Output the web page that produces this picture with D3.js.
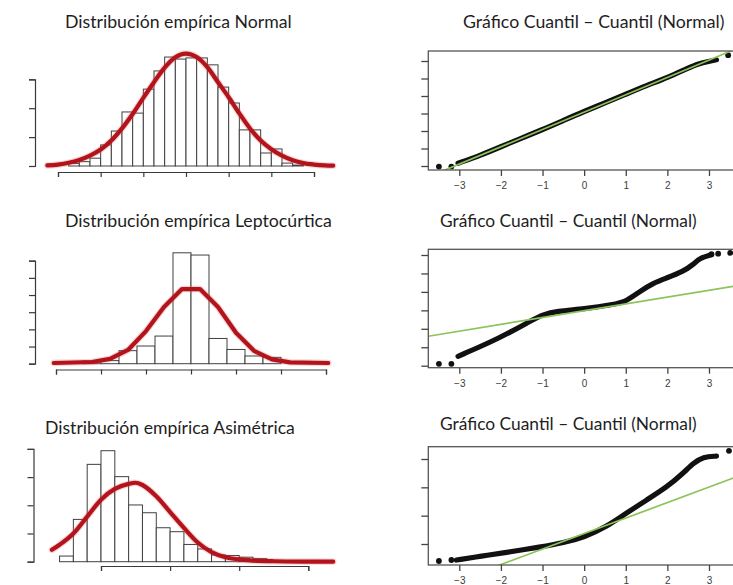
<!DOCTYPE html>
<html>
<head>
<meta charset="utf-8">
<script src="https://cdn.jsdelivr.net/npm/d3@7"></script>
<style>
  body { margin: 0; background: #fff; }
  svg { display: block; }
</style>
</head>
<body>
<svg id="chart" width="733" height="585"></svg>
<script>
// ---------- titles ----------
const histTitles = ["Distribución empírica Normal", "Distribución empírica Leptocúrtica", "Distribución empírica Asimétrica"];
const qqTitle = "Gráfico Cuantil – Cuantil (Normal)";

// ---------- histogram: normal sample (density per bin) ----------
const normalBinStart = -2.75;
const normalBinWidth = 0.25;
const normalDensity = [0.009, 0.015, 0.027, 0.073, 0.121, 0.187, 0.183, 0.266, 0.329, 0.377, 0.370,
                       0.374, 0.374, 0.350, 0.273, 0.218, 0.125, 0.125, 0.045, 0.059, 0.010, 0.003];
const normalCurveX = [-3.25, -3, -2.75, -2.5, -2.25, -2, -1.75, -1.5, -1.25, -1, -0.75, -0.5, -0.25, 0,
                      0.25, 0.5, 0.75, 1, 1.25, 1.5, 1.75, 2, 2.25, 2.5, 2.75, 3, 3.25, 3.45];
const normalCurveY = [0.002, 0.005, 0.011, 0.021, 0.036, 0.057, 0.088, 0.130, 0.180, 0.236, 0.290, 0.340, 0.376, 0.389,
                      0.377, 0.342, 0.290, 0.238, 0.182, 0.130, 0.088, 0.058, 0.036, 0.020, 0.010, 0.005, 0.002, 0.001];
const normalYTicks = [0, 0.1, 0.2, 0.3];
const normalXTicks = [-3, -2, -1, 0, 1, 2, 3];

// ---------- histogram: leptokurtic sample ----------
const leptoBinStart = -2.4;
const leptoBinWidth = 0.4;
const leptoDensity = [0.016, 0.018, 0.076, 0.103, 0.161, 0.646, 0.633, 0.147, 0.083, 0.045, 0.037];
const leptoCurveX = [-3.05, -2.2, -1.8, -1.4, -1.0, -0.6, -0.2, 0.2, 0.6, 1.0, 1.4, 1.8, 2.2, 3.05];
const leptoCurveY = [0.004, 0.010, 0.028, 0.080, 0.190, 0.330, 0.435, 0.435, 0.330, 0.180, 0.075, 0.025, 0.008, 0.004];
const leptoYTicks = [0, 0.1, 0.2, 0.3, 0.4, 0.5, 0.6];
const leptoXTicks = [-3, -2, -1, 0, 1, 2, 3];

// ---------- histogram: right-skewed sample ----------
const skewBinStart = -0.8;
const skewBinWidth = 0.2;
const skewDensity = [0, 0.05, 0.375, 0.863, 0.984, 0.754, 0.503, 0.434, 0.301, 0.266, 0.153,
                     0.113, 0.060, 0.055, 0.040, 0.027, 0.010];
const skewCurveX = [-0.71, -0.6, -0.4, -0.2, 0, 0.2, 0.4, 0.5, 0.6, 0.8, 1.0, 1.2, 1.4, 1.6, 1.8, 2.0, 2.2, 2.5, 3.0, 3.36];
const skewCurveY = [0.105, 0.150, 0.250, 0.400, 0.550, 0.645, 0.690, 0.700, 0.680, 0.580, 0.440, 0.300, 0.170,
                    0.085, 0.040, 0.020, 0.010, 0.004, 0.001, 0.0];
const skewYTicks = [0, 0.25, 0.5, 0.75, 1.0];
const skewXTicks = [0, 1, 2, 3];

// ---------- Q-Q plots (theoretical quantile, sample quantile) ----------
const qqXTicks = [-3, -2, -1, 0, 1, 2, 3];

const qqNormalTheo   = [-3.03, -2.5, -2, -1.5, -1, -0.5, 0, 0.5, 1, 1.5, 2, 2.5, 2.75, 3.0, 3.18];
const qqNormalSample = [-2.84, -2.4, -1.9, -1.4, -0.92, -0.4, 0.12, 0.6, 1.1, 1.6, 2.05, 2.6, 2.85, 2.98, 3.07];
const qqNormalOutTheo   = [-3.49, -3.19, 3.46];
const qqNormalOutSample = [-3.03, -3.03, 3.33];
const qqNormalLine = [0.08, 0.99];          // intercept, slope
const qqNormalYTicks = [-3, -2, -1, 0, 1, 2, 3];

const qqLeptoTheo   = [-3.03, -2.02, -1.23, -0.99, -0.67, 0, 0.7, 1.02, 1.34, 1.66, 1.98, 2.38, 2.62, 2.78, 3.06];
const qqLeptoSample = [-2.49, -1.5, -0.5, -0.23, -0.05, 0.08, 0.31, 0.49, 1.03, 1.48, 1.75, 2.11, 2.48, 2.84, 3.02];
const qqLeptoOutTheo   = [-3.49, -3.19, 3.06, 3.22, 3.51];
const qqLeptoOutSample = [-2.90, -2.90, 3.04, 3.07, 3.11];
const qqLeptoLine = [-0.02, 0.37];
const qqLeptoYTicks = [-3, -2, -1, 0, 1, 2, 3];

const qqSkewTheo   = [-3.07, -2.43, -2.0, -1.0, -0.5, 0, 0.54, 1.0, 1.5, 2.0, 2.38, 2.62, 2.86, 3.18];
const qqSkewSample = [-0.565, -0.42, -0.33, -0.094, 0.046, 0.236, 0.61, 1.08, 1.55, 2.02, 2.5, 2.85, 3.08, 3.1];
const qqSkewOutTheo   = [-3.49, -3.19, 3.48];
const qqSkewOutSample = [-0.6, -0.565, 3.29];
const qqSkewLine = [0.37, 0.546];
const qqSkewYTicks = [0, 1, 2, 3];

// ---------- drawing ----------
const svg = d3.select("#chart");
const RED = "#b3131b";
const AXIS = "#3a3a3a";

function title(text, x, y, targetWidth) {
  const t = svg.append("text")
    .attr("x", x).attr("y", y)
    .attr("fill", "#1e1e1e")
    .style("font-family", "Lato, 'Open Sans', sans-serif")
    .style("font-size", "16px")
    .text(text);
  const w = t.node().getComputedTextLength();
  t.style("font-size", (16 * targetWidth / w).toFixed(2) + "px");
}

function histogram(cfg) {
  const g = svg.append("g");
  const x = d3.scaleLinear().domain([cfg.xTicks[0], cfg.xTicks[cfg.xTicks.length - 1]]).range(cfg.xRange);
  const y = d3.scaleLinear().domain([cfg.yTicks[0], cfg.yTicks[cfg.yTicks.length - 1]]).range(cfg.yRange);

  const bins = cfg.density.map((d, i) => ({ x0: cfg.binStart + i * cfg.binWidth, x1: cfg.binStart + (i + 1) * cfg.binWidth, d }));
  g.selectAll("rect.bar").data(bins).join("rect")
    .attr("class", "bar")
    .attr("x", b => x(b.x0))
    .attr("width", b => x(b.x1) - x(b.x0))
    .attr("y", b => y(b.d))
    .attr("height", b => y(0) - y(b.d))
    .attr("fill", "#fff")
    .attr("stroke", "#404040")
    .attr("stroke-width", 1);

  // density curve with a soft halo
  const pts = cfg.curveX.map((v, i) => [v, cfg.curveY[i]]);
  const line = d3.line().x(p => x(p[0])).y(p => y(p[1])).curve(cfg.curve);
  g.append("path").attr("d", line(pts)).attr("fill", "none")
    .attr("stroke", "#e0555c").attr("stroke-opacity", 0.25).attr("stroke-width", 6.5)
    .attr("stroke-linejoin", "round").attr("stroke-linecap", "round");
  g.append("path").attr("d", line(pts)).attr("fill", "none")
    .attr("stroke", RED).attr("stroke-width", 4.2)
    .attr("stroke-linejoin", "round").attr("stroke-linecap", "round");

  // y axis (no labels)
  const ya = g.append("g").attr("transform", `translate(${cfg.yAxisX},0)`)
    .call(d3.axisLeft(y).tickValues(cfg.yTicks).tickFormat("").tickSizeOuter(0).tickSize(6));
  // x axis (no labels)
  const xg = g.append("g").attr("transform", `translate(0,${cfg.xAxisY})`)
    .call(d3.axisBottom(x).tickValues(cfg.xTicks).tickFormat("").tickSizeOuter(0).tickSize(5));
  [ya, xg].forEach(a => {
    a.selectAll("path, line").attr("stroke", AXIS).attr("stroke-width", 1.2);
  });
}

function qqplot(cfg) {
  const g = svg.append("g");
  const x = d3.scaleLinear().domain([cfg.xTicks[0], cfg.xTicks[cfg.xTicks.length - 1]]).range(cfg.xRange);
  const y = d3.scaleLinear().domain([cfg.yTicks[0], cfg.yTicks[cfg.yTicks.length - 1]]).range(cfg.yRange);
  const [bx0, by0, bx1, by1] = cfg.box;

  const clipId = "clip" + cfg.id;
  svg.append("clipPath").attr("id", clipId).append("rect")
    .attr("x", bx0).attr("y", by0).attr("width", bx1 - bx0).attr("height", by1 - by0);

  const inner = g.append("g").attr("clip-path", `url(#${clipId})`);
  const pts = cfg.theo.map((v, i) => [v, cfg.sample[i]]);
  inner.append("path")
    .attr("d", d3.line().x(p => x(p[0])).y(p => y(p[1])).curve(d3.curveBasis)(pts))
    .attr("fill", "none").attr("stroke", "#111").attr("stroke-width", 5.2)
    .attr("stroke-linecap", "round").attr("stroke-linejoin", "round");
  inner.selectAll("circle").data(cfg.outTheo.map((v, i) => [v, cfg.outSample[i]])).join("circle")
    .attr("cx", p => x(p[0])).attr("cy", p => y(p[1])).attr("r", 2.9).attr("fill", "#111");

  // reference line across the whole plotting region
  const [a, b] = cfg.refLine;
  const xd0 = x.invert(bx0), xd1 = x.invert(bx1);
  inner.append("line")
    .attr("x1", x(xd0)).attr("y1", y(a + b * xd0))
    .attr("x2", x(xd1)).attr("y2", y(a + b * xd1))
    .attr("stroke", "#8cc35a").attr("stroke-width", 1.7);

  g.append("rect").attr("x", bx0).attr("y", by0).attr("width", bx1 - bx0).attr("height", by1 - by0)
    .attr("fill", "none").attr("stroke", "#555").attr("stroke-width", 1.3);

  const ya = g.append("g").attr("transform", `translate(${bx0},0)`)
    .call(d3.axisLeft(y).tickValues(cfg.yTicks).tickFormat("").tickSizeOuter(0).tickSize(7));
  ya.select(".domain").remove();
  const xg = g.append("g").attr("transform", `translate(0,${by1})`)
    .call(d3.axisBottom(x).tickValues(cfg.xTicks).tickFormat(d3.format("d")).tickSizeOuter(0).tickSize(6).tickPadding(6));
  xg.select(".domain").remove();
  [ya, xg].forEach(ax => ax.selectAll("line").attr("stroke", "#444").attr("stroke-width", 1.3));
  xg.selectAll("text").attr("fill", "#3c3c3c")
    .style("font-family", "'Liberation Sans', Arial, sans-serif").style("font-size", "10px");
}

// titles
title(histTitles[0], 65, 28, 227);
title(qqTitle, 463, 28, 262);
title(histTitles[1], 65, 227, 267);
title(qqTitle, 440, 227, 257);
title(histTitles[2], 45, 434, 250);
title(qqTitle, 440, 430, 257);

// left column: histograms with fitted density
histogram({ binStart: normalBinStart, binWidth: normalBinWidth, density: normalDensity,
  curveX: normalCurveX, curveY: normalCurveY, curve: d3.curveMonotoneX,
  xTicks: normalXTicks, yTicks: normalYTicks,
  xRange: [58, 314], yRange: [166, 79.3], yAxisX: 35, xAxisY: 172 });

histogram({ binStart: leptoBinStart, binWidth: leptoBinWidth, density: leptoDensity,
  curveX: leptoCurveX, curveY: leptoCurveY, curve: d3.curveLinear,
  xTicks: leptoXTicks, yTicks: leptoYTicks,
  xRange: [56, 326], yRange: [363.7, 260.7], yAxisX: 35, xAxisY: 369.5 });

histogram({ binStart: skewBinStart, binWidth: skewBinWidth, density: skewDensity,
  curveX: skewCurveX, curveY: skewCurveY, curve: d3.curveMonotoneX,
  xTicks: skewXTicks, yTicks: skewYTicks,
  xRange: [101, 308.3], yRange: [561.7, 448.9], yAxisX: 33.5, xAxisY: 566 });

// right column: normal Q-Q plots
qqplot({ id: 1, theo: qqNormalTheo, sample: qqNormalSample, outTheo: qqNormalOutTheo, outSample: qqNormalOutSample,
  refLine: qqNormalLine, xTicks: qqXTicks, yTicks: qqNormalYTicks,
  xRange: [459.3, 709], yRange: [166, 61], box: [428.3, 51, 742, 170] });

qqplot({ id: 2, theo: qqLeptoTheo, sample: qqLeptoSample, outTheo: qqLeptoOutTheo, outSample: qqLeptoOutSample,
  refLine: qqLeptoLine, xTicks: qqXTicks, yTicks: qqLeptoYTicks,
  xRange: [459.3, 709], yRange: [365.7, 255], box: [428.3, 249.3, 742, 367.7] });

qqplot({ id: 3, theo: qqSkewTheo, sample: qqSkewSample, outTheo: qqSkewOutTheo, outSample: qqSkewOutSample,
  refLine: qqSkewLine, xTicks: qqXTicks, yTicks: qqSkewYTicks,
  xRange: [459.3, 709], yRange: [544, 459], box: [428.3, 446.7, 742, 565] });
</script>
</body>
</html>
